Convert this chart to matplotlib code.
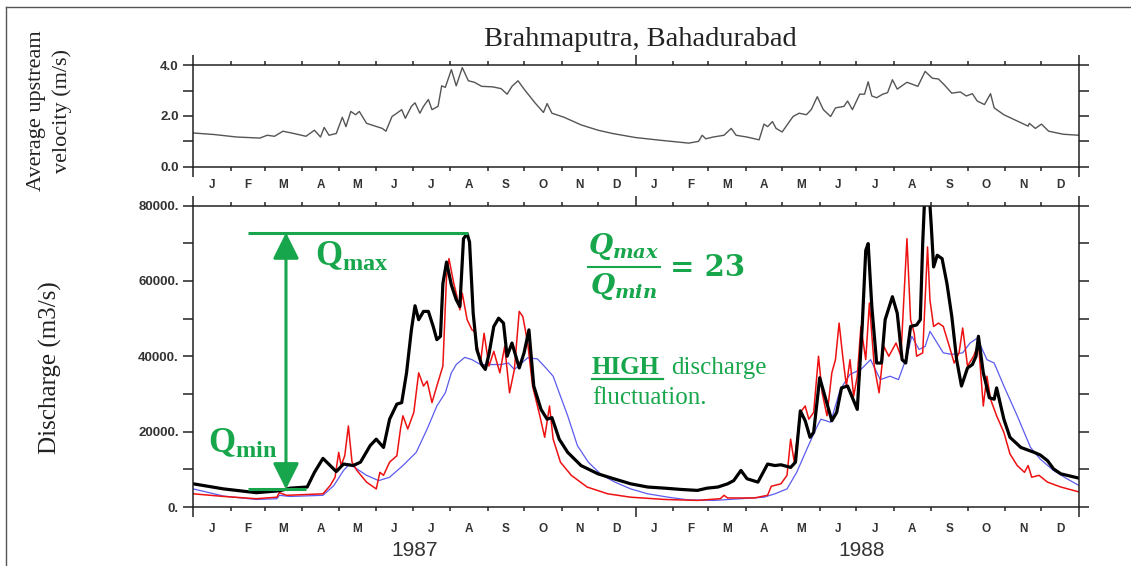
import numpy as np
import pandas as pd
import matplotlib
matplotlib.use('Agg')
import matplotlib.pyplot as plt
from matplotlib.lines import Line2D

plt.rcParams['font.family'] = ['Liberation Serif', 'DejaVu Serif']
plt.rcParams['mathtext.fontset'] = 'custom'
plt.rcParams['mathtext.it'] = 'DejaVu Serif:italic:bold'
plt.rcParams['mathtext.rm'] = 'DejaVu Serif:bold'
plt.rcParams['mathtext.bf'] = 'Liberation Serif:bold'

# days counted from 1 Jan 1987
vel_day = [0, 17, 36, 55, 61, 67, 74, 83, 93, 100, 105, 108, 112, 118, 123, 126, 130, 134, 137, 143,
           156, 159, 164, 168, 172, 175, 180, 183, 187, 190, 194, 197, 202, 205, 208, 213, 217, 222, 227, 232,
           238, 247, 254, 259, 263, 268, 273, 282, 289, 292, 296, 306, 320, 334, 346, 365, 386, 409, 417, 420,
           423, 429, 438, 444, 448, 457, 467, 471, 474, 478, 481, 486, 491, 495, 500, 506, 510, 515, 520, 526,
           530, 537, 540, 544, 550, 554, 557, 560, 564, 569, 573, 577, 581, 589, 593, 598, 604, 610, 615, 620,
           626, 633, 638, 643, 647, 653, 658, 661, 669, 681, 689, 690, 695, 700, 706, 718, 731]
vel = [1.33, 1.27, 1.17, 1.13, 1.24, 1.20, 1.40, 1.31, 1.20, 1.44, 1.17, 1.55, 1.24, 1.31, 1.95, 1.58, 2.18, 2.05, 2.18, 1.71,
       1.51, 1.40, 1.98, 2.11, 2.25, 1.91, 2.38, 2.52, 2.11, 2.38, 2.65, 2.25, 2.38, 3.19, 3.13, 3.83, 3.19, 3.91, 3.39, 3.33,
       3.17, 3.15, 3.08, 2.86, 3.17, 3.39, 3.06, 2.52, 2.14, 2.49, 2.11, 1.95, 1.65, 1.44, 1.31, 1.15, 1.04, 0.93, 1.00, 1.24,
       1.10, 1.17, 1.24, 1.51, 1.24, 1.17, 1.06, 1.68, 1.58, 1.78, 1.51, 1.37, 1.71, 1.98, 2.11, 2.05, 2.25, 2.76, 2.25, 1.98,
       2.32, 2.38, 2.59, 2.25, 2.86, 2.86, 3.35, 2.79, 2.72, 2.86, 2.92, 3.43, 3.06, 3.33, 3.26, 3.17, 3.76, 3.49, 3.46, 3.22,
       2.90, 2.95, 2.79, 2.88, 2.59, 2.45, 2.88, 2.32, 2.05, 1.78, 1.60, 1.71, 1.51, 1.68, 1.40, 1.28, 1.24]

black_day = [0, 25, 52, 71, 80, 94, 100, 107, 113, 118, 124, 132, 138, 146, 151, 157, 162, 168, 172, 176,
             180, 183, 186, 190, 194, 198, 201, 204, 206, 209, 213, 217, 220, 223, 226, 228, 231, 234, 238, 241,
             244, 248, 252, 256, 259, 263, 269, 273, 277, 281, 287, 292, 296, 302, 309, 320, 334, 347, 361, 375,
             389, 403, 416, 424, 433, 441, 446, 452, 457, 466, 474, 480, 485, 493, 497, 501, 505, 509, 512, 517,
             522, 527, 531, 535, 540, 544, 548, 552, 555, 557, 560, 564, 568, 571, 577, 581, 585, 588, 592, 597,
             600, 602, 604, 607, 609, 611, 614, 618, 622, 626, 630, 634, 639, 643, 646, 648, 652, 657, 661, 663,
             669, 674, 683, 694, 699, 705, 710, 716, 724, 731]
black_q = [6150, 4800, 3800, 4300, 5000, 5300, 9200, 12900, 11000, 9400, 11400, 11000, 11900, 16300, 18000, 15800, 23300, 27300, 27700, 35600,
           47000, 53400, 49700, 51900, 51900, 47900, 44400, 45300, 59300, 65000, 58900, 55000, 53200, 71200, 72500, 70300, 51400, 41800, 37800, 36500,
           40500, 47900, 50100, 48800, 40000, 43500, 36900, 40900, 47000, 32100, 25900, 23300, 23700, 18000, 14500, 11000, 8800, 7500, 6150, 5300,
           5000, 4650, 4400, 5000, 5300, 6150, 7000, 9700, 7500, 6600, 11400, 11000, 11200, 10500, 11900, 25500, 22900, 18500, 19800, 34300,
           28600, 22900, 25100, 31600, 32100, 29000, 25900, 47500, 68100, 69900, 53200, 38200, 38200, 49700, 55800, 51400, 39100, 38200, 47900, 48300,
           49700, 70000, 85000, 85000, 75000, 63700, 66800, 65900, 59300, 50600, 39100, 32100, 36900, 37800, 40000, 45300, 35600, 29000, 28600, 31600,
           23300, 18500, 15800, 14500, 13800, 12300, 10100, 8800, 8200, 7650]

red_day = [0, 25, 52, 69, 71, 77, 107, 113, 117, 120, 122, 125, 128, 131, 135, 143, 151, 154, 157, 162,
           168, 171, 173, 177, 182, 186, 190, 193, 197, 201, 206, 209, 211, 215, 217, 220, 222, 226, 230, 232,
           237, 240, 244, 248, 253, 257, 261, 265, 269, 272, 276, 280, 286, 290, 294, 297, 303, 312, 325, 342,
           361, 389, 416, 435, 438, 441, 463, 474, 477, 485, 490, 493, 496, 501, 505, 508, 512, 516, 519, 523,
           527, 530, 533, 536, 539, 542, 545, 548, 551, 555, 558, 562, 566, 570, 574, 580, 584, 589, 592, 595,
           597, 602, 606, 608, 611, 615, 619, 624, 628, 632, 635, 639, 644, 648, 652, 655, 658, 663, 669, 674,
           680, 686, 689, 692, 698, 705, 716, 731]
red_q = [3500, 2800, 2200, 2600, 3800, 3100, 3500, 5700, 7900, 14500, 11000, 13600, 21500, 11900, 9700, 6600, 4800, 9200, 8400, 11900,
         13600, 20700, 24200, 20700, 25100, 35600, 32100, 33400, 27700, 32100, 37400, 61100, 65900, 59300, 56700, 52300, 56700, 49700, 47000, 46600,
         38200, 46100, 37400, 41300, 35600, 42600, 30300, 36500, 51900, 50500, 43500, 32100, 24200, 18500, 26800, 18000, 11900, 8400, 5300, 3500,
         2600, 2000, 1750, 2200, 3100, 2400, 2400, 3100, 5500, 6150, 8400, 18000, 11900, 25100, 26800, 23300, 25100, 40000, 30300, 24200,
         35600, 39100, 48800, 40000, 32100, 39100, 29400, 34700, 47900, 39100, 54100, 37400, 30300, 42600, 40000, 43500, 40000, 71200, 49700, 46100,
         40000, 40900, 69000, 54900, 47900, 48800, 47900, 42600, 38200, 40900, 47500, 37400, 40000, 43500, 26800, 34700, 28600, 24200, 19800, 14100,
         11000, 9200, 11000, 7900, 8400, 6600, 5300, 4000]

blue_day = [0, 25, 52, 69, 71, 80, 107, 116, 124, 129, 135, 143, 153, 162, 173, 184, 193, 201, 208, 213,
            217, 224, 230, 237, 243, 254, 260, 265, 271, 276, 284, 291, 297, 302, 309, 317, 326, 337, 348, 361,
            375, 392, 408, 430, 452, 471, 480, 490, 498, 507, 515, 518, 526, 534, 542, 551, 559, 567, 575, 582,
            589, 593, 599, 604, 608, 614, 619, 626, 635, 641, 647, 655, 661, 669, 680, 691, 699, 710, 721, 731]
blue_q = [4800, 2900, 2000, 2200, 3100, 2800, 3100, 5700, 9700, 11400, 10100, 8400, 7000, 7900, 11000, 14500, 20700, 26800, 30300, 35600,
          37800, 39700, 39100, 37800, 37800, 37800, 38200, 36500, 38200, 39600, 39300, 36900, 34700, 30300, 24200, 16300, 11900, 8500, 6600, 4800,
          3500, 2600, 1900, 1750, 2200, 2600, 3500, 4800, 9200, 15800, 21500, 23300, 22500, 31200, 35200, 36500, 39100, 33800, 34700, 33800,
          40000, 45300, 41800, 42600, 46600, 43500, 40900, 40500, 40900, 43500, 44800, 39100, 38200, 32100, 24200, 15800, 12700, 9700, 7500, 5700]

month_letters = ['J', 'F', 'M', 'A', 'M', 'J', 'J', 'A', 'S', 'O', 'N', 'D'] * 2
years = ['1987', '1988']
year_label_day = [183, 552]

vel_ticks = [0, 1, 2, 3, 4]
vel_labels = ['0.0', '', '2.0', '', '4.0']
q_ticks = [0, 10000, 20000, 30000, 40000, 50000, 60000, 70000, 80000]
q_labels = ['0.', '', '20000.', '', '40000.', '', '60000.', '', '80000.']

W, H = 1131, 566
green = '#17a64b'
axcol = '#222222'

fig = plt.figure(figsize=(W / 100, H / 100), dpi=100)


def px(x0, y0, x1, y1):
    return [x0 / W, 1 - y1 / H, (x1 - x0) / W, (y1 - y0) / H]


def ftext(x, y, s, **kw):
    return fig.text(x / W, 1 - y / H, s, **kw)


ax1 = fig.add_axes(px(193.3, 65.3, 1079, 166.7))
ax2 = fig.add_axes(px(193.3, 205.5, 1079, 507))

origin = pd.Timestamp('1987-01-01')
month_start = (pd.date_range('1987-01-01', '1989-01-01', freq='MS') - origin).days.values
year_start = (pd.date_range('1987-01-01', '1989-01-01', freq='YS') - origin).days.values
month_mid = (month_start[:-1] + month_start[1:]) / 2

ax1.plot(vel_day, vel, color='#555555', lw=1.0)
ax2.plot(blue_day, blue_q, color='#5b5bf0', lw=0.9)
ax2.plot(red_day, red_q, color='#ee1111', lw=1.1)
ax2.plot(black_day, black_q, color='black', lw=2.3)

for ax, yt, yl, lab_off in ((ax1, vel_ticks, vel_labels, -13.5), (ax2, q_ticks, q_labels, -15.5)):
    ax.set_xlim(0, month_start[-1])
    ax.set_xticks(year_start)
    ax.set_xticks(month_start, minor=True)
    ax.tick_params(axis='x', which='both', direction='out', top=True, bottom=True,
                   labelbottom=False, color=axcol, width=1.1)
    ax.tick_params(axis='x', which='major', length=7.5)
    ax.tick_params(axis='x', which='minor', length=3)
    ax.set_yticks(yt)
    ax.set_yticklabels(yl, fontfamily='Liberation Sans', fontweight='bold', fontsize=9.5, color='#333333')
    ax.tick_params(axis='y', direction='out', left=True, right=True, length=7.5, width=1.1,
                   color=axcol, pad=3)
    ax.set_ylim(yt[0], yt[-1])
    for sp in ax.spines.values():
        sp.set_linewidth(1.1)
        sp.set_color(axcol)
    for m, lab in zip(month_mid, month_letters):
        ax.annotate(lab, xy=(m, 0), xycoords=('data', 'axes fraction'), xytext=(0, lab_off),
                    textcoords='offset points', ha='center', va='center',
                    fontfamily='Liberation Sans', fontweight='bold', fontsize=8.5, color='#333333')

for d, y in zip(year_label_day, years):
    ax2.annotate(y, xy=(d, 0), xycoords=('data', 'axes fraction'), xytext=(0, -31),
                 textcoords='offset points', ha='center', va='center',
                 fontfamily='Liberation Sans', fontsize=15, color='#333333')

# Qmax / Qmin range markers
qmax_level, qmin_level = 72800, 4700
ax2.hlines(qmax_level, 45, 227, color=green, lw=2.2)
ax2.hlines(qmin_level, 45, 93, color=green, lw=2.2)
ax2.annotate('', xy=(76.5, qmin_level), xytext=(76.5, qmax_level),
             arrowprops=dict(arrowstyle='<|-|>,head_length=0.4,head_width=0.2', mutation_scale=40,
                             color=green, lw=2.2, shrinkA=0, shrinkB=0))

ftext(315, 266, r'$\mathbf{Q_{max}}$', fontsize=25, color=green, va='baseline')
ftext(208, 453, r'$\mathbf{Q_{min}}$', fontsize=25, color=green, va='baseline')

# ratio
ftext(624, 262, r'$Q_{max}$', fontsize=20, color=green, ha='center', va='bottom')
ftext(624, 271, r'$Q_{min}$', fontsize=20, color=green, ha='center', va='top')
fig.add_artist(Line2D([588 / W, 660 / W], [1 - 266.7 / H] * 2, color=green, lw=1.5))
ftext(670, 267, '= 23', fontsize=21, color=green, va='center', fontfamily='DejaVu Serif', fontweight='bold')

ftext(592, 374, 'HIGH', fontsize=18, fontweight='bold', color=green, va='baseline')
ftext(671, 374, 'discharge', fontsize=18, color=green, va='baseline')
fig.add_artist(Line2D([592 / W, 663 / W], [1 - 378.5 / H] * 2, color=green, lw=1.6))
ftext(592, 404, 'fluctuation.', fontsize=18, color=green, va='baseline')

ftext(640, 40, 'Brahmaputra, Bahadurabad', fontsize=20.5, ha='center', va='center', color='#222222')
ftext(37, 111, 'Average upstream', fontsize=16, rotation=90, ha='center', va='center', color='#222222')
ftext(62, 111, 'velocity (m/s)', fontsize=16, rotation=90, ha='center', va='center', color='#222222')
ftext(50, 368, 'Discharge (m3/s)', fontsize=18, rotation=90, ha='center', va='center', color='#222222')

# outer frame
fig.add_artist(Line2D([6 / W, 1], [1 - 7 / H] * 2, color='#555555', lw=1.0))
fig.add_artist(Line2D([6 / W, 6 / W], [0, 1 - 7 / H], color='#555555', lw=1.0))

fig.savefig('out.png', dpi=100)
